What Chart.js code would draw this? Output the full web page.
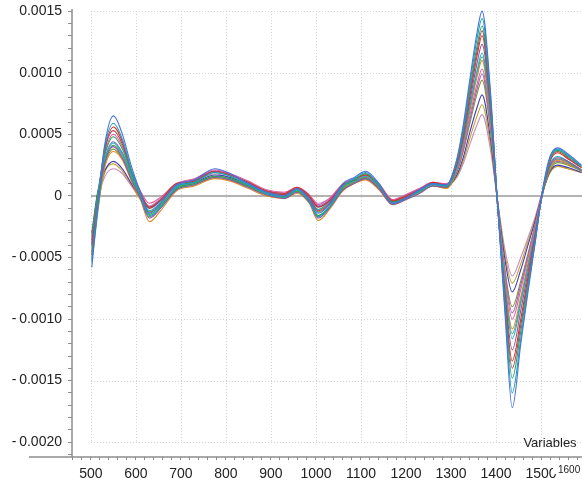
<!DOCTYPE html>
<html>
<head>
<meta charset="utf-8">
<script src="https://cdn.jsdelivr.net/npm/chart.js@4.4.0/dist/chart.umd.min.js"></script>
<style>
  html, body { margin: 0; padding: 0; background: #fff; }
  #wrap { width: 582px; height: 487px; }
</style>
</head>
<body>
<div id="wrap"><canvas id="grafica"></canvas></div>
<script>
// Eje X (variables) y espectros, en unidades de 1e-4
const variables = [502, 515, 530, 550, 570, 590, 610, 630, 655, 690, 730, 775, 810, 850, 890, 930, 958, 985, 1005, 1030,
  1060, 1085, 1110, 1140, 1170, 1200, 1230, 1260, 1290, 1313, 1327, 1342, 1358, 1369, 1387, 1402, 1420, 1436, 1455, 1471,
  1487, 1502, 1520, 1537, 1560, 1590];

const esp01 = [-5.8, -1.0, 4.0, 6.5, 5.0, 2.4, 0.3, -1.4, -0.6, 0.9, 1.3, 2.2, 1.8, 1.0, 0.3, 0.0, 0.6, -0.3, -1.4, -0.7,
  1.0, 1.5, 2.0, 1.0, -0.6, -0.2, 0.5, 1.0, 0.9, 3.0, 5.7, 9.5, 13.3, 15.0, 8.8, 0.0, -9.6, -17.2, -12.0, -7.8,
  -3.8, 0.2, 3.2, 3.9, 3.4, 2.5];
const esp02 = [-3.2, 0.2, 3.2, 4.8, 3.8, 1.8, 0.0, -1.5, -0.8, 0.6, 1.0, 1.6, 1.4, 0.8, 0.2, -0.1, 0.4, -0.4, -1.6, -0.9,
  0.7, 1.3, 1.8, 0.9, -0.5, -0.2, 0.4, 1.0, 0.8, 2.8, 5.2, 8.7, 12.2, 13.8, 8.1, 0.2, -8.8, -14.8, -11.0, -7.2,
  -3.6, 0.0, 3.0, 3.7, 3.2, 2.4];
const esp03 = [-4.8, -0.8, 3.5, 5.6, 4.4, 2.0, 0.2, -1.0, -0.3, 1.0, 1.2, 2.0, 1.7, 1.1, 0.4, 0.2, 0.7, 0.0, -0.9, -0.4,
  0.9, 1.3, 1.7, 0.9, -0.4, 0.0, 0.5, 1.1, 0.9, 2.6, 4.9, 8.1, 11.4, 13.0, 7.6, 0.0, -8.2, -13.4, -10.0, -6.6,
  -3.3, 0.1, 2.8, 3.5, 3.0, 2.3];
const esp04 = [-3.6, -0.3, 2.6, 4.0, 3.1, 1.3, -0.2, -1.8, -1.0, 0.5, 0.9, 1.5, 1.3, 0.7, 0.1, -0.2, 0.3, -0.5, -1.8, -1.0,
  0.5, 1.0, 1.4, 0.6, -0.7, -0.3, 0.2, 0.8, 0.7, 2.5, 4.6, 7.7, 10.8, 12.3, 7.2, -0.2, -7.8, -12.5, -9.3, -6.2,
  -3.1, -0.1, 2.5, 3.1, 2.8, 2.1];
const esp05 = [-4.2, -0.5, 2.8, 4.3, 3.4, 1.6, 0.1, -1.2, -0.5, 0.8, 1.2, 1.9, 1.6, 0.9, 0.3, 0.1, 0.5, -0.2, -1.1, -0.5,
  0.8, 1.2, 1.6, 0.8, -0.5, -0.1, 0.4, 0.9, 0.8, 2.3, 4.4, 7.3, 10.2, 11.6, 6.8, 0.0, -7.3, -11.6, -8.7, -5.8,
  -2.9, 0.0, 2.6, 3.2, 2.8, 2.1];
const esp06 = [-5.0, -1.2, 2.2, 3.6, 2.9, 1.2, -0.3, -2.1, -1.2, 0.4, 0.8, 1.4, 1.2, 0.6, 0.0, -0.2, 0.2, -0.6, -2.0, -1.1,
  0.4, 1.0, 1.3, 0.5, -0.7, -0.3, 0.3, 0.8, 0.6, 2.2, 4.2, 6.9, 9.7, 11.0, 6.5, -0.1, -7.0, -10.8, -8.2, -5.5,
  -2.8, 0.0, 2.3, 2.9, 2.6, 2.0];
const esp07 = [-3.4, 0.0, 3.3, 5.0, 4.0, 2.0, 0.4, -0.6, -0.1, 1.0, 1.4, 2.1, 1.8, 1.2, 0.5, 0.3, 0.7, 0.1, -0.7, -0.2,
  1.0, 1.4, 1.7, 1.0, -0.3, 0.1, 0.6, 1.1, 1.0, 2.1, 3.9, 6.5, 9.1, 10.3, 6.1, 0.1, -6.5, -10.0, -7.6, -5.1,
  -2.5, 0.2, 2.4, 3.0, 2.7, 2.1];
const esp08 = [-4.5, -0.7, 2.4, 3.8, 3.0, 1.4, 0.0, -1.3, -0.7, 0.6, 1.0, 1.6, 1.4, 0.8, 0.2, 0.0, 0.4, -0.3, -1.3, -0.7,
  0.6, 1.1, 1.5, 0.7, -0.6, -0.2, 0.3, 0.8, 0.7, 1.9, 3.6, 5.9, 8.3, 9.4, 5.5, 0.0, -6.0, -9.0, -6.9, -4.7,
  -2.3, 0.0, 2.1, 2.7, 2.5, 2.0];
const esp09 = [-3.0, 0.3, 2.0, 2.8, 2.2, 1.0, -0.1, -1.0, -0.4, 0.8, 1.1, 1.7, 1.5, 0.9, 0.3, 0.1, 0.5, -0.1, -0.9, -0.4,
  0.8, 1.2, 1.5, 0.8, -0.4, 0.0, 0.5, 0.9, 0.8, 1.7, 3.1, 5.2, 7.2, 8.2, 4.8, 0.0, -5.2, -7.8, -6.0, -4.0,
  -2.0, 0.1, 2.0, 2.5, 2.3, 1.9];
const esp10 = [-3.8, -0.4, 1.5, 2.2, 1.8, 0.8, -0.2, -0.8, -0.2, 0.9, 1.2, 1.8, 1.5, 1.0, 0.4, 0.2, 0.6, 0.0, -0.6, -0.2,
  0.9, 1.3, 1.6, 0.9, -0.3, 0.1, 0.6, 1.0, 0.9, 1.5, 2.6, 4.2, 5.8, 6.6, 3.9, 0.0, -4.4, -6.5, -5.0, -3.4,
  -1.7, 0.2, 1.9, 2.4, 2.2, 1.9];
const esp11 = [-5.2, -0.6, 3.8, 5.9, 4.6, 2.1, 0.1, -1.6, -0.9, 0.7, 1.1, 1.9, 1.6, 0.9, 0.2, -0.1, 0.5, -0.4, -1.7, -0.9,
  0.8, 1.4, 1.9, 0.9, -0.6, -0.2, 0.4, 1.0, 0.8, 2.9, 5.5, 9.1, 12.8, 14.4, 8.5, 0.1, -9.2, -16.0, -11.6, -7.5,
  -3.7, 0.1, 3.1, 3.8, 3.3, 2.4];
const esp12 = [-4.0, -0.2, 3.6, 5.3, 4.2, 2.0, 0.3, -0.9, -0.3, 0.9, 1.3, 2.0, 1.7, 1.0, 0.4, 0.1, 0.6, -0.1, -1.2, -0.6,
  0.9, 1.3, 1.8, 0.9, -0.5, -0.1, 0.5, 1.0, 0.9, 2.7, 5.0, 8.4, 11.8, 13.4, 7.9, 0.1, -8.5, -14.0, -10.5, -6.9,
  -3.4, 0.0, 2.9, 3.6, 3.1, 2.3];
const esp13 = [-5.4, -1.4, 2.5, 4.1, 3.3, 1.5, -0.1, -1.7, -0.9, 0.5, 0.9, 1.5, 1.3, 0.7, 0.1, -0.1, 0.3, -0.5, -1.6, -0.9,
  0.5, 1.1, 1.4, 0.6, -0.6, -0.2, 0.3, 0.8, 0.7, 2.3, 4.3, 7.1, 10.0, 11.3, 6.7, -0.1, -7.2, -11.2, -8.5, -5.7,
  -2.9, -0.1, 2.4, 3.0, 2.7, 2.0];
const esp14 = [-3.9, -0.3, 2.9, 4.4, 3.5, 1.7, 0.2, -0.9, -0.3, 0.9, 1.3, 2.0, 1.7, 1.1, 0.4, 0.2, 0.6, 0.0, -0.8, -0.3,
  0.9, 1.3, 1.7, 0.9, -0.4, 0.0, 0.5, 1.0, 0.9, 2.0, 3.7, 6.2, 8.7, 9.9, 5.8, 0.0, -6.2, -9.5, -7.2, -4.9,
  -2.4, 0.1, 2.3, 2.8, 2.6, 2.0];
const esp15 = [-4.6, -0.9, 1.8, 2.6, 2.0, 0.9, -0.3, -1.3, -0.6, 0.7, 1.0, 1.6, 1.4, 0.8, 0.2, 0.0, 0.4, -0.3, -1.1, -0.5,
  0.7, 1.1, 1.4, 0.7, -0.5, -0.1, 0.4, 0.8, 0.7, 1.6, 2.8, 4.7, 6.5, 7.4, 4.3, 0.0, -4.8, -7.1, -5.5, -3.7,
  -1.9, 0.1, 1.9, 2.4, 2.2, 1.9];

const espectros = [esp01, esp11, esp02, esp12, esp03, esp04, esp05, esp13, esp06, esp07, esp14, esp08, esp09, esp15, esp10];
const colores = ["#4a6fe3", "#17a5b8", "#2ca25f", "#b5475b", "#d7301f", "#8856a7", "#1db0c4", "#5aa469",
  "#e6862a", "#de5ca4", "#9467bd", "#7a9a2e", "#3f3fb5", "#c9a227", "#c58cc0"];
const unidad = 1e-4;

// Rejilla punteada
const rejillaX = [500, 600, 700, 800, 900, 1000, 1100, 1200, 1300, 1400, 1500, 1600];
const rejillaY = [0.0015, 0.0010, 0.0005, -0.0005, -0.0010, -0.0015, -0.0020];

document.addEventListener("DOMContentLoaded", function () {
    const canvas = document.getElementById("grafica");
    canvas.width = 582;
    canvas.height = 487;

    const fuente = { family: "'Liberation Sans', Arial, sans-serif", size: 14 };

    const decorado = {
        id: "decorado",
        beforeDatasetsDraw(chart) {
            const { ctx, chartArea } = chart;
            const x = chart.scales.x, y = chart.scales.y;
            const x0 = x.getPixelForValue(500);
            const yTop = y.getPixelForValue(0.0015), yBot = y.getPixelForValue(-0.002);
            ctx.save();
            ctx.strokeStyle = "#cfcfcf";
            ctx.lineWidth = 1;
            ctx.setLineDash([1, 2]);
            rejillaX.forEach(v => {
                const px = Math.round(x.getPixelForValue(v)) + 0.5;
                ctx.beginPath(); ctx.moveTo(px, yTop); ctx.lineTo(px, yBot); ctx.stroke();
            });
            rejillaY.forEach(v => {
                const py = Math.round(y.getPixelForValue(v)) + 0.5;
                ctx.beginPath(); ctx.moveTo(x0, py); ctx.lineTo(chartArea.right, py); ctx.stroke();
            });
            ctx.setLineDash([]);
            // linea del cero
            ctx.strokeStyle = "#9a9a9a";
            ctx.lineWidth = 1.5;
            const pz = y.getPixelForValue(0);
            ctx.beginPath(); ctx.moveTo(x0, pz); ctx.lineTo(chartArea.right, pz); ctx.stroke();
            ctx.restore();
        },
        afterDraw(chart) {
            const { ctx, chartArea } = chart;
            ctx.save();
            ctx.strokeStyle = "#8c8c8c";
            ctx.lineWidth = 1.5;
            ctx.beginPath(); ctx.moveTo(chartArea.left, chartArea.top + 4); ctx.lineTo(chartArea.left, chartArea.bottom); ctx.stroke();
            ctx.beginPath(); ctx.moveTo(29, chartArea.bottom); ctx.lineTo(chartArea.right, chartArea.bottom); ctx.stroke();
            ctx.fillStyle = "#222";
            ctx.font = "13px 'Liberation Sans', Arial, sans-serif";
            ctx.textAlign = "center";
            ctx.textBaseline = "middle";
            ctx.fillText("Variables", 550, 443);
            // etiqueta 1600 recortada en el borde
            ctx.fillStyle = "#fff";
            ctx.fillRect(553, 462, 29, 12);
            ctx.fillStyle = "#222";
            ctx.font = "10px 'Liberation Sans', Arial, sans-serif";
            ctx.textAlign = "left";
            ctx.fillText("1600", 558, 470);
            ctx.restore();
        }
    };

    new Chart(canvas, {
        type: "line",
        data: {
            datasets: espectros.map((serie, i) => ({
                label: "Espectro " + (i + 1),
                data: variables.map((v, j) => ({ x: v, y: serie[j] * unidad })),
                borderColor: colores[i],
                borderWidth: 1.1,
                pointRadius: 0,
                fill: false,
                cubicInterpolationMode: "monotone"
            }))
        },
        options: {
            responsive: false,
            animation: false,
            layout: { padding: { top: 5, left: 0, right: 0, bottom: 0 } },
            plugins: {
                legend: { display: false },
                tooltip: { enabled: false }
            },
            scales: {
                x: {
                    type: "linear",
                    min: 458,
                    max: 1591,
                    afterFit: s => { s.height = 30; s.paddingLeft = 0; s.paddingRight = 0; },
                    border: { display: false },
                    grid: { drawOnChartArea: false, tickLength: 3, tickColor: "#8c8c8c" },
                    ticks: {
                        stepSize: 20,
                        autoSkip: false,
                        includeBounds: false,
                        maxRotation: 0,
                        padding: 6,
                        color: "#222",
                        font: fuente,
                        callback: v => (Math.round(v) % 100 === 0 ? String(Math.round(v)) : "")
                    }
                },
                y: {
                    min: -0.00212,
                    max: 0.00155,
                    afterFit: s => { s.width = 72; s.paddingTop = 0; s.paddingBottom = 0; },
                    border: { display: false },
                    grid: { drawOnChartArea: false, tickLength: 4, tickColor: "#8c8c8c" },
                    ticks: {
                        stepSize: 0.0001,
                        autoSkip: false,
                        includeBounds: false,
                        padding: 6,
                        color: "#222",
                        font: fuente,
                        callback: function (v) {
                            const n = Math.round(v * 10000);
                            if (n % 5 !== 0) return "";
                            if (n === 0) return "0";
                            const t = Math.abs(n / 10000).toFixed(4);
                            return n < 0 ? "-\u2009" + t : t;
                        }
                    }
                }
            }
        },
        plugins: [decorado]
    });
});
</script>
</body>
</html>
